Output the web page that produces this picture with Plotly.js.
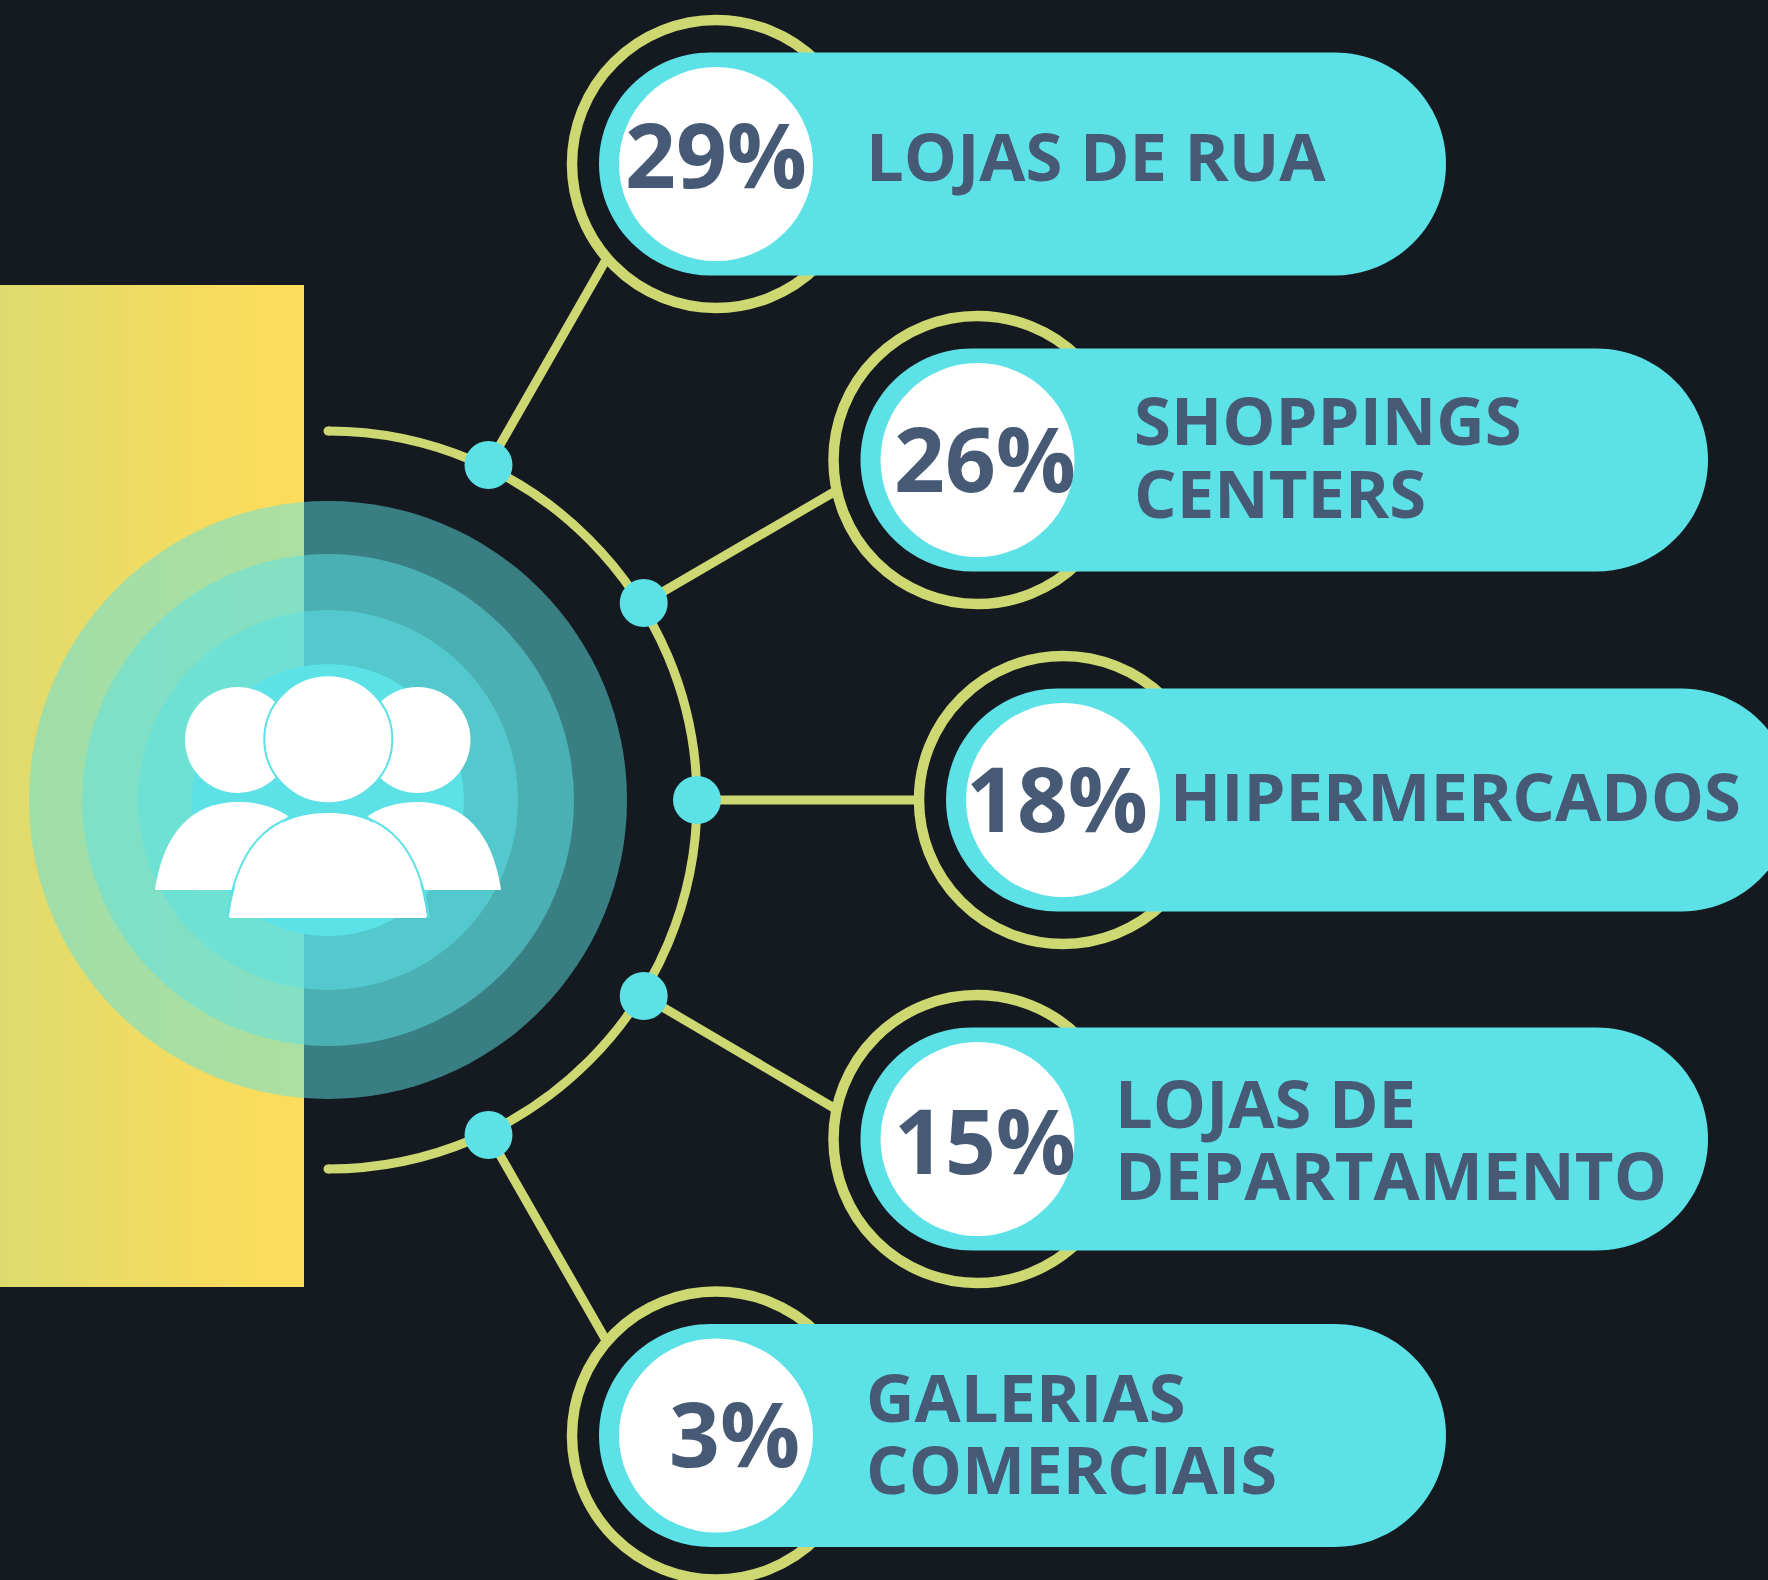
<!DOCTYPE html>
<html><head><meta charset="utf-8">
<script src="https://cdn.plot.ly/plotly-3.0.1.min.js"></script>
<style>html,body{margin:0;padding:0;background:#151a21}#c{width:1768px;height:1580px}</style>
</head><body><div id="c"></div>
<script>
// --- data ---
const categories = ["LOJAS DE RUA", "SHOPPINGS CENTERS", "HIPERMERCADOS", "LOJAS DE DEPARTAMENTO", "GALERIAS COMERCIAIS"];
const shares = [29, 26, 18, 15, 3];
const labelLines = [["LOJAS DE RUA"], ["SHOPPINGS", "CENTERS"], ["HIPERMERCADOS"], ["LOJAS DE", "DEPARTAMENTO"], ["GALERIAS", "COMERCIAIS"]];

// --- styles ---
const BG = "#151a21", CYAN = "#5ce1e6", OLIVE = "#cdd873", INK = "#475a75", WHITE = "#ffffff";
const FONT = "Open Sans";

// --- layout geometry (pixels of the 1768x1580 canvas) ---
const hub = {x: 328, y: 800};
const hubRings = [[299, .5], [246, .5], [190, .5], [136, 1]];
const arcR = 369;
const rows = [
  {cx: 716,  cy: 164,  right: 1446, node: [488.5, 465], end: [607, 258],  pctX: 624, pctY: 153,  textX: 865, textY: [155]},
  {cx: 977.5,cy: 460,  right: 1708, node: [643.7, 603], end: [834, 492],  pctX: 892.5, pctY: 457, textX: 1133, textY: [419, 491.5]},
  {cx: 1063, cy: 800,  right: 1793, node: [697, 800],   end: [919, 800],  pctX: 965, pctY: 797, textX: 1168.5, textY: [794.5]},
  {cx: 977.5,cy: 1139, right: 1708, node: [643.7, 996], end: [834, 1108], pctX: 893, pctY: 1139, textX: 1113.5, textY: [1101.5, 1173.5]},
  {cx: 716,  cy: 1435.5,right: 1446,node: [488.5, 1135],end: [607, 1342], pctX: 668, pctY: 1432, textX: 865, textY: [1395.5, 1467.5]}
];
const ringR = 144, pillH = 111.5, pillInset = 117, whiteR = 97, nodeR = 24;

const shapes = [];
const circle = (x, y, r, o) => shapes.push(Object.assign({type: "circle", xref: "x", yref: "y", x0: x - r, x1: x + r, y0: y - r, y1: y + r, layer: "above"}, o));
const path = (d, o) => shapes.push(Object.assign({type: "path", xref: "x", yref: "y", path: d, layer: "above"}, o));
const noLine = {line: {width: 0}};

// concentric hub
hubRings.forEach(([r, a]) => circle(hub.x, hub.y, r, Object.assign({fillcolor: CYAN, opacity: a}, noLine)));

// white people icon
const bodyFill = Object.assign({fillcolor: WHITE}, noLine);
circle(238, 740, 53, bodyFill);
circle(417.5, 740, 53, bodyFill);
path("M155,889 C164,832 192,802 238,802 C258,802 275,807 288,816 L232,890 L157,890 Q155,890 155,889 Z", bodyFill);
path("M501,889 C492,832 464,802 417.5,802 C398,802 381,807 368,816 L425,890 L499,890 Q501,890 501,889 Z", bodyFill);
circle(328.3, 739.3, 64, {fillcolor: WHITE, line: {color: CYAN, width: 2}});
path("M229,916 C238,852 268,813 328,813 C388,813 418,852 427,916 Q427,918 425,918 L231,918 Q229,918 229,916 Z", bodyFill);
path("M227,918 C236,851 266,811.5 328,811.5 C390,811.5 420,851 429,918", {line: {color: CYAN, width: 2}});

// connector lines, arc and arc ends
const lineW = 9;
rows.forEach(r => shapes.push({type: "line", xref: "x", yref: "y", x0: r.node[0], y0: r.node[1], x1: r.end[0], y1: r.end[1], layer: "above", line: {color: OLIVE, width: lineW}}));
const k = 0.5523 * arcR;
path(`M${hub.x},${hub.y - arcR} C${hub.x + k},${hub.y - arcR} ${hub.x + arcR},${hub.y - k} ${hub.x + arcR},${hub.y} C${hub.x + arcR},${hub.y + k} ${hub.x + k},${hub.y + arcR} ${hub.x},${hub.y + arcR}`, {line: {color: OLIVE, width: lineW}});
[-1, 1].forEach(s => circle(hub.x, hub.y + s * arcR, lineW / 2, Object.assign({fillcolor: OLIVE}, noLine)));
rows.forEach(r => circle(r.node[0], r.node[1], nodeR, Object.assign({fillcolor: CYAN}, noLine)));

// pills
rows.forEach(r => {
  circle(r.cx, r.cy, ringR, {line: {color: OLIVE, width: 10.5}});
  const L = r.cx - pillInset, R = r.right, h = pillH, c = 0.5523 * h, t = r.cy - h, b = r.cy + h;
  path(`M${L + h},${t} L${R - h},${t} C${R - h + c},${t} ${R},${r.cy - c} ${R},${r.cy} C${R},${r.cy + c} ${R - h + c},${b} ${R - h},${b} L${L + h},${b} C${L + h - c},${b} ${L},${r.cy + c} ${L},${r.cy} C${L},${r.cy - c} ${L + h - c},${t} ${L + h},${t} Z`, Object.assign({fillcolor: CYAN}, noLine));
  circle(r.cx, r.cy, whiteR, Object.assign({fillcolor: WHITE}, noLine));
});

// texts
const annotations = [];
const note = (x, y, text, size) => annotations.push({xref: "x", yref: "y", x, y, text, showarrow: false, xanchor: "left", yanchor: "middle", borderpad: 0,
  font: {family: FONT, size, weight: 700, color: INK}});
rows.forEach((r, i) => {
  note(r.pctX, r.pctY, shares[i] + "%", 89);
  labelLines[i].forEach((t, j) => note(r.textX, r.textY[j], t, 67));
});

const panel = {x: [0, 304, 304, 0, 0], y: [285, 285, 1287, 1287, 285]};
Plotly.newPlot("c", [{
  x: panel.x, y: panel.y, type: "scatter", mode: "lines", fill: "toself", line: {width: 0}, hoverinfo: "skip", showlegend: false,
  fillgradient: {type: "horizontal", start: 0, stop: 304, colorscale: [[0, "#dedb6e"], [0.85, "#fbdc5b"], [1, "#fcdc5a"]]}
}], {
  width: 1768, height: 1580, margin: {l: 0, r: 0, t: 0, b: 0},
  paper_bgcolor: BG, plot_bgcolor: BG, showlegend: false,
  xaxis: {range: [0, 1768], visible: false, fixedrange: true},
  yaxis: {range: [1580, 0], visible: false, fixedrange: true},
  shapes, annotations
}, {displayModeBar: false, staticPlot: true});
</script></body></html>
